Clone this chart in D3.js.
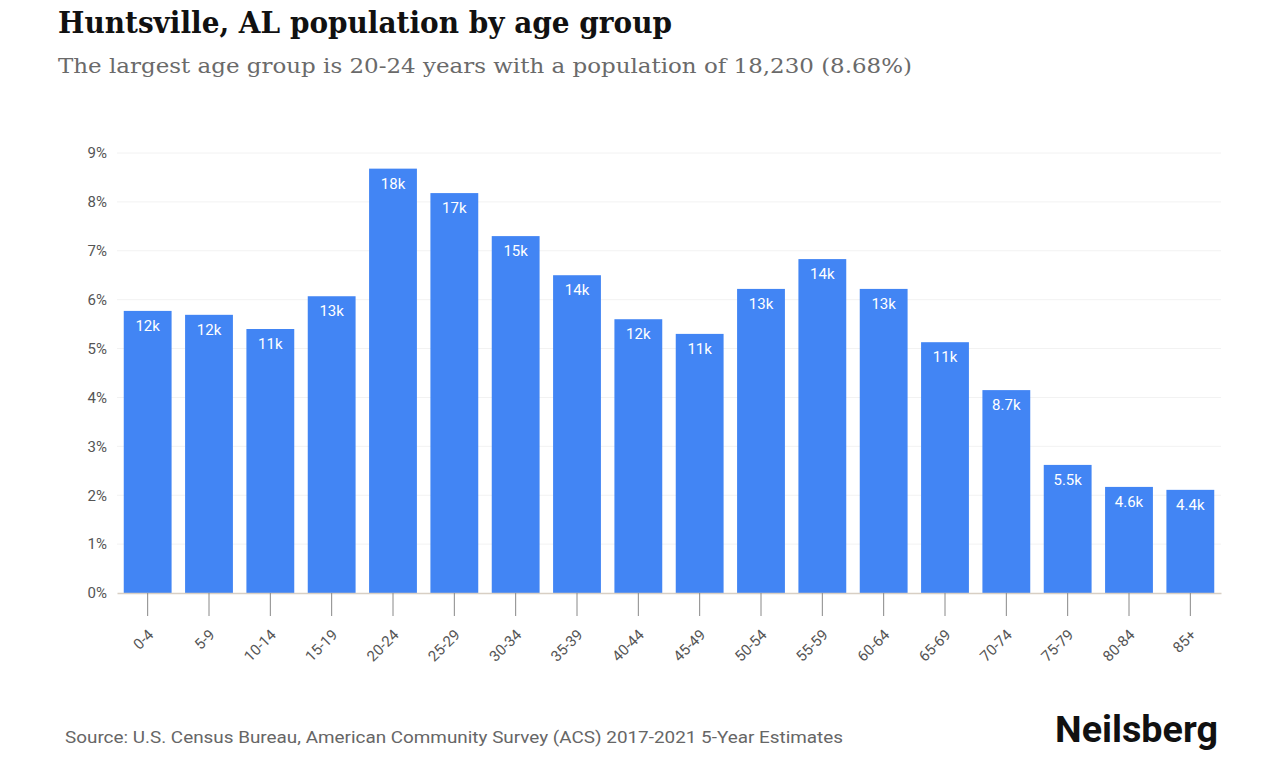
<!DOCTYPE html>
<html>
<head>
<meta charset="utf-8">
<script src="https://cdn.jsdelivr.net/npm/d3@7.9.0/dist/d3.min.js"></script>
<style>
  html, body { margin: 0; padding: 0; background: #fff; }
</style>
</head>
<body>
<div id="chart"></div>
<script>
"use strict";

// Age groups and their share of the population (in %)
const AGE_GROUPS = ["0-4", "5-9", "10-14", "15-19", "20-24", "25-29", "30-34", "35-39", "40-44",
    "45-49", "50-54", "55-59", "60-64", "65-69", "70-74", "75-79", "80-84", "85+"];
const SHARES = [5.77, 5.69, 5.40, 6.07, 8.68, 8.18, 7.30, 6.50, 5.60,
    5.30, 6.22, 6.83, 6.22, 5.13, 4.15, 2.62, 2.17, 2.11];
const POP_LABELS = ["12k", "12k", "11k", "13k", "18k", "17k", "15k", "14k", "12k",
    "11k", "13k", "14k", "13k", "11k", "8.7k", "5.5k", "4.6k", "4.4k"];
const Y_TICKS = [0, 1, 2, 3, 4, 5, 6, 7, 8, 9];

const TITLE = "Huntsville, AL population by age group";
const SUBTITLE = "The largest age group is 20-24 years with a population of 18,230 (8.68%)";
const SOURCE = "Source: U.S. Census Bureau, American Community Survey (ACS) 2017-2021 5-Year Estimates";
const BRAND = "Neilsberg";

const W = 1278;
const H = 760;
const BAR_COLOR = "#4285f4";
const SANS = "Roboto, 'Liberation Sans', sans-serif";
const SERIF = "'DejaVu Serif', 'Liberation Serif', serif";

const svg = d3.select("#chart").append("svg")
    .attr("width", W)
    .attr("height", H)
    .style("display", "block");

// Titles
svg.append("text")
    .attr("x", 58)
    .attr("y", 33)
    .attr("font-family", SERIF)
    .attr("font-weight", "bold")
    .attr("font-size", 30)
    .attr("fill", "#111")
    .attr("textLength", 614)
    .attr("lengthAdjust", "spacingAndGlyphs")
    .text(TITLE);

svg.append("text")
    .attr("x", 58)
    .attr("y", 73)
    .attr("font-family", SERIF)
    .attr("font-size", 21)
    .attr("fill", "#6a6a6a")
    .attr("textLength", 854)
    .attr("lengthAdjust", "spacingAndGlyphs")
    .text(SUBTITLE);

// Scales
const x = d3.scaleBand()
    .domain(AGE_GROUPS)
    .range([117, 1221])
    .paddingInner(0.22)
    .paddingOuter(0.11);

const y = d3.scaleLinear()
    .domain([0, 9])
    .range([593, 153]);

// Gridlines
svg.append("g")
    .selectAll("line")
    .data(Y_TICKS.slice(1))
    .join("line")
    .attr("x1", 117)
    .attr("x2", 1221)
    .attr("y1", (d) => y(d))
    .attr("y2", (d) => y(d))
    .attr("stroke", "#f2f2f2")
    .attr("stroke-width", 1);

// Bars
svg.append("g")
    .selectAll("rect")
    .data(SHARES)
    .join("rect")
    .attr("x", (d, i) => x(AGE_GROUPS[i]))
    .attr("y", (d) => y(d))
    .attr("width", x.bandwidth())
    .attr("height", (d) => y(0) - y(d))
    .attr("fill", BAR_COLOR);

// Bar labels
svg.append("g")
    .selectAll("text")
    .data(SHARES)
    .join("text")
    .attr("x", (d, i) => x(AGE_GROUPS[i]) + x.bandwidth() / 2)
    .attr("y", (d) => y(d) + 20)
    .attr("text-anchor", "middle")
    .attr("font-family", SANS)
    .attr("font-size", 15)
    .attr("fill", "#fff")
    .text((d, i) => POP_LABELS[i]);

// Y axis
const yAxis = svg.append("g")
    .attr("transform", "translate(107, 0)")
    .call(d3.axisLeft(y).tickValues(Y_TICKS).tickFormat((d) => d + "%").tickSize(0).tickPadding(0));
yAxis.select(".domain").remove();
yAxis.selectAll("text")
    .attr("font-family", SANS)
    .attr("font-size", 15)
    .attr("fill", "#555");

// X axis
const xAxis = svg.append("g")
    .attr("transform", `translate(0, ${y(0)})`)
    .call(d3.axisBottom(x).tickSizeInner(23).tickSizeOuter(0));
xAxis.select(".domain")
    .attr("stroke", "#d8cfc4")
    .attr("stroke-width", 1.5);
xAxis.selectAll(".tick line")
    .attr("stroke", "#888");
xAxis.selectAll("text")
    .attr("font-family", SANS)
    .attr("font-size", 15)
    .attr("fill", "#555")
    .attr("text-anchor", "end")
    .attr("x", 0)
    .attr("y", 0)
    .attr("dy", "0.35em")
    .attr("transform", "translate(3, 39) rotate(-45)");

// Footer
svg.append("text")
    .attr("x", 65)
    .attr("y", 743)
    .attr("font-family", SANS)
    .attr("font-size", 17)
    .attr("fill", "#666")
    .attr("textLength", 778)
    .attr("lengthAdjust", "spacingAndGlyphs")
    .text(SOURCE);

svg.append("text")
    .attr("x", 1055)
    .attr("y", 742)
    .attr("font-family", SANS)
    .attr("font-weight", "bold")
    .attr("font-size", 36)
    .attr("fill", "#111")
    .attr("textLength", 163)
    .attr("lengthAdjust", "spacingAndGlyphs")
    .text(BRAND);
</script>
</body>
</html>
